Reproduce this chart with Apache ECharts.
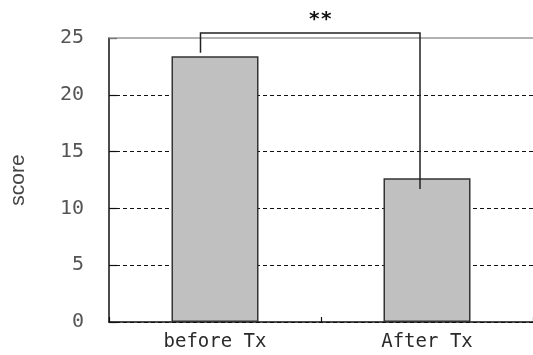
<!DOCTYPE html>
<html>
<head>
<meta charset="utf-8">
<script src="https://cdn.jsdelivr.net/npm/echarts@6/dist/echarts.min.js"></script>
<style>html,body{margin:0;padding:0;background:#fff}#c{width:533px;height:355px}</style>
</head>
<body>
<div id="c"></div>
<script>
const categories = ['before Tx', 'After Tx'];
const scores = [23.4, 12.65];
const yTicks = [0, 5, 10, 15, 20, 25];
// significance bracket: left leg end, top, right leg end (score units)
const bracketLeft = 23.7;
const bracketTop = 25.45;
const bracketRight = 11.7;
const sigLabel = '**';

const chart = echarts.init(document.getElementById('c'), null, {renderer: 'canvas'});
const mono = '"DejaVu Sans Mono", monospace';
chart.setOption({
  animation: false,
  backgroundColor: '#fff',
  grid: {left: 104, right: -4, top: 38, bottom: 33, containLabel: false},
  xAxis: {
    type: 'category',
    data: categories,
    axisLine: {lineStyle: {color: '#111', width: 1.5}},
    axisTick: {show: true, inside: true, length: 5, lineStyle: {color: '#111', width: 1.2}},
    axisLabel: {fontFamily: mono, fontSize: 19, color: '#2a2a2a', margin: 11}
  },
  yAxis: {
    type: 'value',
    min: yTicks[0], max: yTicks[yTicks.length - 1], interval: 5,
    name: 'score', nameLocation: 'middle', nameGap: 80, nameRotate: 90,
    nameTextStyle: {fontFamily: '"Liberation Sans", sans-serif', fontSize: 21, color: '#444'},
    axisLine: {show: true, lineStyle: {color: '#111', width: 1.5}},
    axisTick: {show: true, inside: true, length: 8, lineStyle: {color: '#111', width: 1.2}},
    axisLabel: {fontFamily: mono, fontSize: 20, color: '#555', margin: 25, padding: [0, 0, 8, 0]},
    splitLine: {show: true, lineStyle: {type: [4, 3], width: 1.2,
      color: ['#111', '#111', '#111', '#111', '#111', 'rgba(0,0,0,0)']}}
  },
  series: [{
    type: 'bar',
    data: scores,
    barWidth: 87,
    itemStyle: {color: '#c0c0c0', borderColor: '#333', borderWidth: 1.5},
    markLine: {
      silent: true, symbol: 'none', label: {show: false},
      lineStyle: {color: '#999', type: 'solid', width: 1.5},
      data: [{yAxis: yTicks[yTicks.length - 1]}]
    }
  }, {
    type: 'custom',
    data: [[0, bracketLeft, 1, bracketRight, bracketTop]],
    z: 5,
    renderItem: function (params, api) {
      const a = api.coord([api.value(0), api.value(1)]);
      const b = api.coord([api.value(2), api.value(3)]);
      const yt = api.coord([0, api.value(4)])[1];
      const x1 = a[0] - 14.5, x2 = b[0] - 7;
      return {
        type: 'group',
        children: [{
          type: 'polyline',
          shape: {points: [[x1, a[1]], [x1, yt], [x2, yt], [x2, b[1]]]},
          style: {stroke: '#222', lineWidth: 1.5, fill: null}
        }, {
          type: 'text',
          style: {text: sigLabel, x: (x1 + x2) / 2 + 10, y: yt - 13, align: 'center', verticalAlign: 'middle',
            font: 'bold 20px ' + mono, fill: '#111'}
        }]
      };
    }
  }]
});
</script>
</body>
</html>
